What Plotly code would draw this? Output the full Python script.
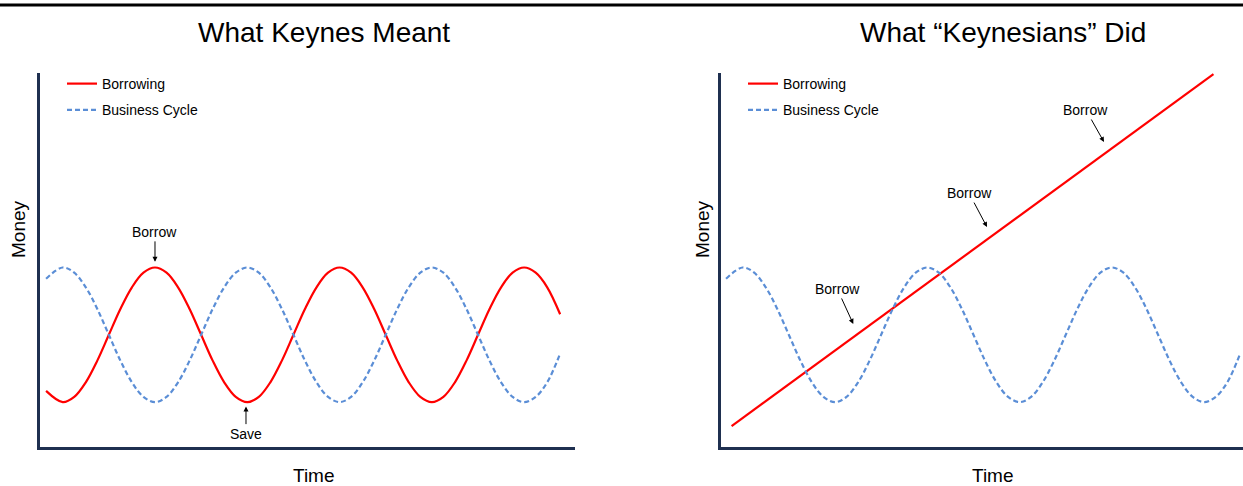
import plotly.graph_objects as go

# Time axis (units of half a business cycle) shared by the curves
time_pts = [-0.18,
            0.0, 0.125, 0.25, 0.375, 0.5, 0.625, 0.75, 0.875,
            1.0, 1.125, 1.25, 1.375, 1.5, 1.625, 1.75, 1.875,
            2.0, 2.125, 2.25, 2.375, 2.5, 2.625, 2.75, 2.875,
            3.0, 3.125, 3.25, 3.375, 3.5, 3.625, 3.75, 3.875,
            4.0, 4.125, 4.25, 4.375, 4.5, 4.625, 4.75, 4.875,
            5.0, 5.125, 5.25,
            5.39]

# Counter-cyclical borrowing (left panel)
borrowing_cyclical = [1.5,
                      1.2, 1.34, 1.73, 2.31, 3.0, 3.69, 4.27, 4.66,
                      4.8, 4.66, 4.27, 3.69, 3.0, 2.31, 1.73, 1.34,
                      1.2, 1.34, 1.73, 2.31, 3.0, 3.69, 4.27, 4.66,
                      4.8, 4.66, 4.27, 3.69, 3.0, 2.31, 1.73, 1.34,
                      1.2, 1.34, 1.73, 2.31, 3.0, 3.69, 4.27, 4.66,
                      4.8, 4.66, 4.27,
                      3.55]

# Business cycle (both panels)
business_cycle = [4.5,
                  4.8, 4.66, 4.27, 3.69, 3.0, 2.31, 1.73, 1.34,
                  1.2, 1.34, 1.73, 2.31, 3.0, 3.69, 4.27, 4.66,
                  4.8, 4.66, 4.27, 3.69, 3.0, 2.31, 1.73, 1.34,
                  1.2, 1.34, 1.73, 2.31, 3.0, 3.69, 4.27, 4.66,
                  4.8, 4.66, 4.27, 3.69, 3.0, 2.31, 1.73, 1.34,
                  1.2, 1.34, 1.73,
                  2.5]

# Ever-rising borrowing (right panel)
borrowing_trend_t = [-0.12, 5.10]
borrowing_trend = [0.56, 9.97]

W, H = 1243, 486
FONT = "Liberation Sans, Arial, sans-serif"
RED = "#FF0000"
BLUE = "#5B8ED6"
AXIS = "#1F3050"
DASH = "5px,3px"


def px(x):
    return x / W


def py(y):
    return 1 - y / H


fig = go.Figure()

fig.add_trace(go.Scatter(x=time_pts, y=borrowing_cyclical, mode="lines", name="Borrowing",
                         line=dict(color=RED, width=2.2, shape="spline"), legendgroup="a",
                         xaxis="x", yaxis="y", legend="legend"))
fig.add_trace(go.Scatter(x=time_pts, y=business_cycle, mode="lines", name="Business Cycle",
                         line=dict(color=BLUE, width=2.2, dash=DASH, shape="spline"),
                         legendgroup="b", xaxis="x", yaxis="y", legend="legend"))
fig.add_trace(go.Scatter(x=borrowing_trend_t, y=borrowing_trend, mode="lines", name="Borrowing",
                         line=dict(color=RED, width=2.2), legendgroup="c",
                         xaxis="x2", yaxis="y2", legend="legend2"))
fig.add_trace(go.Scatter(x=time_pts, y=business_cycle, mode="lines", name="Business Cycle",
                         line=dict(color=BLUE, width=2.2, dash=DASH, shape="spline"),
                         legendgroup="d", xaxis="x2", yaxis="y2", legend="legend2"))

axis_common = dict(showgrid=False, zeroline=False, showticklabels=False, ticks="",
                   showline=True, linecolor=AXIS, linewidth=2.5, fixedrange=True)
ydom = [py(447), py(73)]

legend_common = dict(font=dict(family=FONT, size=14, color="#000000"),
                     bgcolor="rgba(0,0,0,0)", xanchor="left", yanchor="top",
                     traceorder="grouped", tracegroupgap=5,
                     itemclick=False, itemdoubleclick=False)

fig.update_layout(
    width=W, height=H,
    margin=dict(l=0, r=0, t=0, b=0),
    paper_bgcolor="white", plot_bgcolor="white",
    font=dict(family=FONT, color="#000000"),
    xaxis=dict(domain=[px(40), px(575)], range=[-0.246, 5.551], **axis_common),
    yaxis=dict(domain=ydom, range=[0, 10], anchor="x", **axis_common),
    xaxis2=dict(domain=[px(720.7), 1.0], range=[-0.238, 5.42], anchor="y2", **axis_common),
    yaxis2=dict(domain=ydom, range=[0, 10], anchor="x2", **axis_common),
    legend=dict(x=px(62), y=py(68), **legend_common),
    legend2=dict(x=px(743), y=py(68), **legend_common),
    showlegend=True,
)

# Rule across the top of the page
fig.add_shape(type="line", xref="paper", yref="paper", x0=0, x1=1, y0=py(5), y1=py(5),
              line=dict(color="#000000", width=3))

texts = [
    ("What Keynes Meant", 324, 33, 28, 0),
    ("What \u201cKeynesians\u201d Did", 1003, 33, 28, 0),
    ("Time", 314, 475, 19, 0),
    ("Time", 993, 475, 19, 0),
    ("Money", 18, 229, 19, -90),
    ("Money", 702, 229, 19, -90),
]
for txt, x, y, size, ang in texts:
    fig.add_annotation(text=txt, xref="paper", yref="paper", x=px(x), y=py(y),
                       showarrow=False, textangle=ang, xanchor="center", yanchor="middle",
                       font=dict(family=FONT, size=size, color="#000000"))

# Arrow callouts: (label, axes, head x, head y, tail offset x, tail offset y)
callouts = [
    ("Borrow", "x", "y", 1.0, 4.95, 0, -30),
    ("Save", "x", "y", 1.986, 1.08, 0, 27),
    ("Borrow", "x2", "y2", 1.198, 3.29, -16, -35),
    ("Borrow", "x2", "y2", 2.647, 5.88, -18, -34),
    ("Borrow", "x2", "y2", 3.914, 8.155, -18, -32),
]
for txt, xr, yr, x, y, ax, ay in callouts:
    fig.add_annotation(text=txt, xref=xr, yref=yr, x=x, y=y, ax=ax, ay=ay,
                       showarrow=True, arrowhead=2, arrowsize=1, arrowwidth=1,
                       arrowcolor="#000000", standoff=0,
                       font=dict(family=FONT, size=14, color="#000000"))

fig.write_html("out.html")
